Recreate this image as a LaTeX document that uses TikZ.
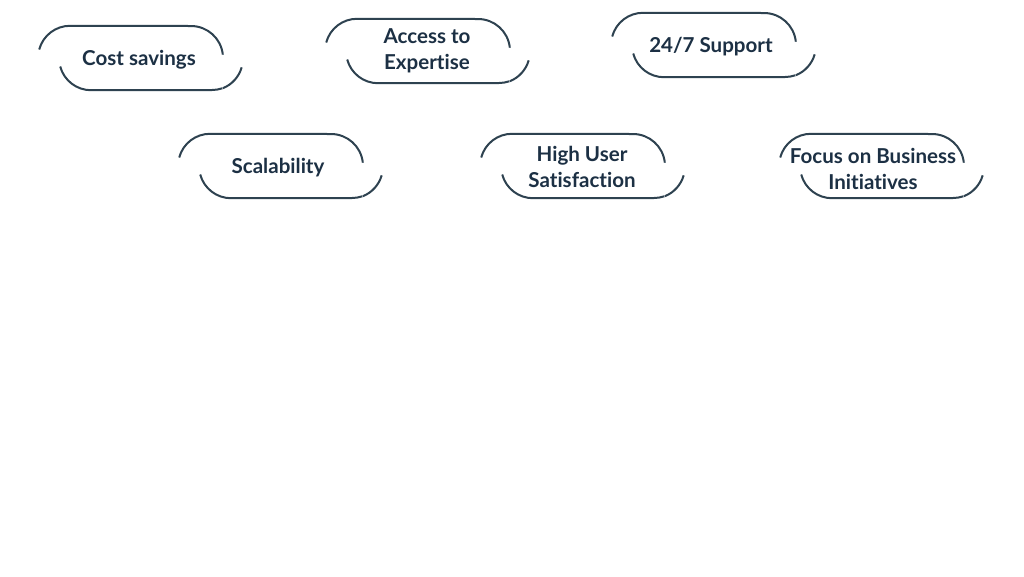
\documentclass[tikz,border=0pt]{standalone}
\usepackage{fontspec}
\setmainfont[Ligatures=NoCommon]{Lato}
\begin{document}
\begin{tikzpicture}[x=0.75pt,y=-0.75pt]
\definecolor{ink}{HTML}{1C3044}
\definecolor{rim}{HTML}{2E4250}
\tikzset{
  lbl/.style={font=\fontsize{15.4}{19.5}\selectfont\bfseries,text=ink,align=center,inner sep=0pt},
  rimline/.style={draw=rim,line width=1.5pt}
}
\useasboundingbox[fill=white] (0,0) rectangle (1024,576);

% the six benefit pills: name / left / top / text centre / text
\foreach \nm/\xx/\yy/\tx/\ty/\txt in {cost/38/26/139/60/{Cost savings}, expert/325/19/427/51/{Access to\\Expertise},
  support/611/13/711/47/{24/7 Support}, scale/178/134/278/168/{Scalability},
  user/480/134/582/167/{High User\\Satisfaction}, focus/779/134/873/169/{Focus on Business\\Initiatives}}
{
    \node[lbl] (\nm) at (\tx,\ty) {\txt};
    % upper half of the left pill
    \draw[rimline] (\xx+1.2,\yy+23.5) arc[start angle=165,end angle=90,radius=24pt]
        -- (\xx+153,\yy) arc[start angle=90,end angle=6,radius=24pt];
    % lower half of the right pill, broken just before its end
    \draw[rimline] (\xx+22.2,\yy+40.5) arc[start angle=195,end angle=270,radius=24pt]
        -- (\xx+174,\yy+64) arc[start angle=270,end angle=289,radius=24pt];
    \draw[rimline] (\xx+184.9,\yy+62.2) arc[start angle=292,end angle=344,radius=24pt];
}
\end{tikzpicture}
\end{document}
